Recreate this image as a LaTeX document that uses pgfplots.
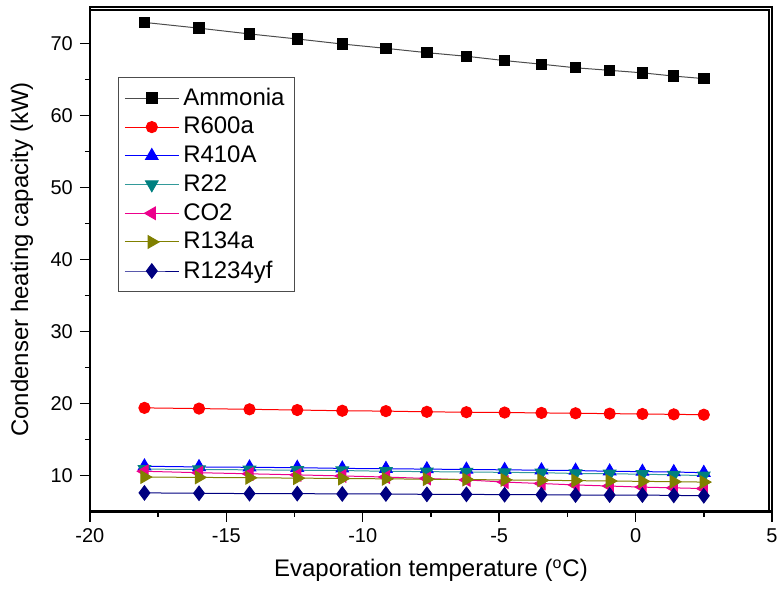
\documentclass[border=0pt]{standalone}
\usepackage{fontspec}
\setmainfont{Liberation Sans}
\usepackage{pgfplots}
\pgfplotsset{compat=1.18}
\definecolor{navyb}{RGB}{0,0,128}
\definecolor{tealc}{RGB}{0,128,128}
\definecolor{olivec}{RGB}{128,128,0}

\begin{document}
\begin{tikzpicture}
\begin{axis}[
    name=ax,
    scale only axis,
    width=341.5pt, height=252.5pt,
    xmin=-20, xmax=5, ymin=5, ymax=75,
    xtick={-20,-15,...,5}, ytick={10,20,...,70},
    minor x tick num=1, minor y tick num=1,
    xtick pos=bottom, ytick pos=left, tick align=outside,
    major tick length=5pt, minor tick length=2.5pt,
    tick style={black, line width=0.7pt},
    axis line style={line width=0.9pt},
    axis background/.style={draw=black, line width=1.2pt},
    /pgf/number format/assume math mode=true,
    tick label style={font=\fontsize{10}{12}\selectfont},
    xlabel={Evaporation temperature (\textsuperscript{o}C)},
    ylabel={Condenser heating capacity (kW)},
    label style={font=\fontsize{12}{14}\selectfont},
    xlabel style={at={(axis description cs:0.5,-0.117)}, anchor=center},
    ylabel style={at={(axis description cs:-0.0996,0.5)}, anchor=center},
    legend cell align=left,
    legend style={at={(axis description cs:0.041,0.861)}, anchor=north west,
        font=\fontsize{12}{14}\selectfont, draw=black!70, line width=0.5pt,
        row sep=0.5pt, inner xsep=3pt, inner ysep=3pt},
    legend image code/.code={\draw[mark repeat=2,mark phase=2] plot coordinates {(0pt,0pt)(13.5pt,0pt)(27pt,0pt)};},
]
\addplot[black!70, line width=0.5pt, mark=square*, mark size=2.6pt, mark options={black, fill=black}] coordinates {
(-18,72.9)(-16,72.1)(-14.15,71.3)(-12.4,70.6)(-10.75,69.9)(-9.15,69.3)(-7.65,68.7)(-6.2,68.2)
(-4.8,67.6)(-3.45,67.1)(-2.2,66.6)(-0.95,66.25)(0.25,65.9)(1.4,65.45)(2.5,65.1)};
\addplot[red, line width=0.5pt, mark=*, mark size=2.8pt, mark options={red, fill=red}] coordinates {
(-18,19.4)(-16,19.3)(-14.15,19.2)(-12.4,19.1)(-10.75,19.0)(-9.15,18.95)(-7.65,18.85)(-6.2,18.8)
(-4.8,18.75)(-3.45,18.7)(-2.2,18.65)(-0.95,18.6)(0.25,18.55)(1.4,18.5)(2.5,18.45)};
\addplot[blue, line width=0.5pt, mark=triangle*, mark size=3.6pt, mark options={blue, fill=blue}] coordinates {
(-18,11.3)(-16,11.2)(-14.15,11.15)(-12.4,11.1)(-10.75,11.0)(-9.15,10.95)(-7.65,10.9)(-6.2,10.85)
(-4.8,10.8)(-3.45,10.75)(-2.2,10.7)(-0.95,10.6)(0.25,10.55)(1.4,10.5)(2.5,10.4)};
\addplot[tealc!80, line width=0.5pt, mark=triangle*, mark size=3.6pt, mark options={tealc, fill=tealc, rotate=180}] coordinates {
(-18,10.9)(-16,10.85)(-14.15,10.8)(-12.4,10.75)(-10.75,10.7)(-9.15,10.6)(-7.65,10.55)(-6.2,10.5)
(-4.8,10.45)(-3.45,10.4)(-2.2,10.3)(-0.95,10.25)(0.25,10.2)(1.4,10.1)(2.5,10.0)};
\addplot[magenta, line width=0.5pt, mark=triangle*, mark size=3.6pt, mark options={magenta, fill=magenta, rotate=90}] coordinates {
(-18,10.6)(-16,10.4)(-14.15,10.25)(-12.4,10.1)(-10.75,9.95)(-9.15,9.8)(-7.65,9.6)(-6.2,9.4)
(-4.8,9.1)(-3.45,8.9)(-2.2,8.7)(-0.95,8.55)(0.25,8.4)(1.4,8.3)(2.5,8.2)};
\addplot[olivec, line width=0.5pt, mark=triangle*, mark size=3.6pt, mark options={olivec, fill=olivec, rotate=-90}] coordinates {
(-18,9.8)(-16,9.75)(-14.15,9.7)(-12.4,9.65)(-10.75,9.6)(-9.15,9.55)(-7.65,9.5)(-6.2,9.45)
(-4.8,9.4)(-3.45,9.35)(-2.2,9.3)(-0.95,9.25)(0.25,9.2)(1.4,9.15)(2.5,9.1)};
\addplot[navyb, line width=0.5pt, mark=diamond*, mark size=3.6pt, mark options={navyb, fill=navyb}] coordinates {
(-18,7.6)(-16,7.55)(-14.15,7.5)(-12.4,7.5)(-10.75,7.45)(-9.15,7.45)(-7.65,7.4)(-6.2,7.4)
(-4.8,7.35)(-3.45,7.35)(-2.2,7.3)(-0.95,7.3)(0.25,7.3)(1.4,7.25)(2.5,7.2)};
\legend{Ammonia, R600a, R410A, R22, CO2, R134a, R1234yf}
\end{axis}
\draw[black, line width=1.2pt] ([yshift=-1.5pt]ax.north west) -- ([xshift=-1.5pt,yshift=-1.5pt]ax.north east) -- ([xshift=-1.5pt]ax.south east);
\pgfresetboundingbox
\path ([xshift=-45pt,yshift=-43pt]ax.south west) rectangle ([xshift=3.5pt,yshift=3.65pt]ax.north east);
\end{tikzpicture}
\end{document}
